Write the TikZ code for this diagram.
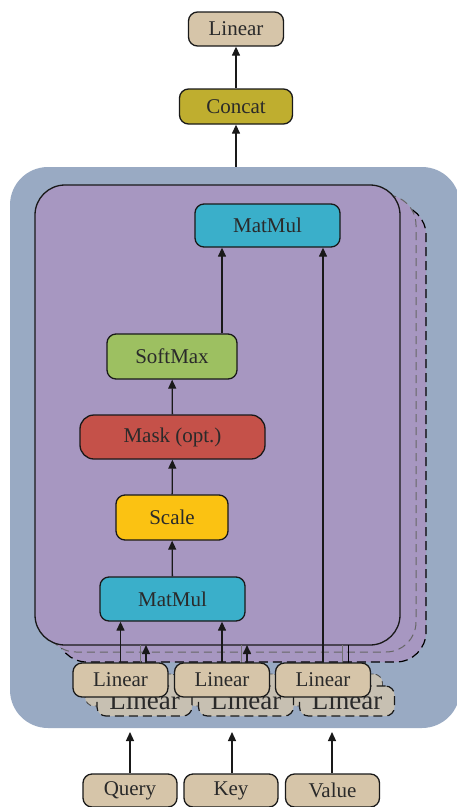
\documentclass[tikz,border=0pt]{standalone}
\usepackage{fontspec}
\setmainfont{Liberation Serif}
\usetikzlibrary{arrows.meta,calc}
\definecolor{outerc}{HTML}{99AAC3}
\definecolor{purp}{HTML}{A797C1}
\definecolor{beige}{HTML}{D6C5A9}
\definecolor{beigeb}{HTML}{C7C0B2}
\definecolor{olive}{HTML}{BFAE2F}
\definecolor{cyanb}{HTML}{3AAFCA}
\definecolor{greenb}{HTML}{9DC061}
\definecolor{redb}{HTML}{C55149}
\definecolor{yellowb}{HTML}{FBC212}
\definecolor{txt}{HTML}{2A2A2A}
\tikzset{
  blk/.style={draw=black!90, line width=1.3pt, rounded corners=9pt, inner sep=0pt,
    font=\fontsize{21}{24}\selectfont, text=txt},
  arr/.style={-{Triangle[width=8pt,length=9pt]}, line width=1.3pt, draw=black!90},
  thinln/.style={line width=0.8pt, draw=black!55},
  backlin/.style={draw=black!90, line width=1.2pt, dashed, dash pattern=on 9pt off 5pt,
    rounded corners=9pt, fill=beigeb, inner sep=0pt, minimum width=95pt, minimum height=30pt,
    font=\fontsize{27}{28}\selectfont, text=txt},
  midlin/.style={draw=black!70, line width=0.9pt, dashed, dash pattern=on 6pt off 4pt,
    rounded corners=9pt, fill=beigeb, inner sep=0pt, minimum width=95pt, minimum height=32pt},
  linbox/.style={blk, fill=beige, minimum width=95pt, minimum height=34pt}
}
\begin{document}
\begin{tikzpicture}[x=1pt,y=-1pt]
\useasboundingbox (0,0) rectangle (456,807);
% outer multi-head block
\node[fill=outerc, rounded corners=38pt, minimum width=450pt, minimum height=561pt, inner sep=0pt] (outer) at (235,447.5) {};
% stacked heads
\draw[fill=purp, line width=1.2pt, dash pattern=on 9pt off 5pt, rounded corners=30pt] (57,205) rectangle (426,662);
\draw[fill=purp, line width=1.0pt, draw=black!60, dash pattern=on 8pt off 5pt, rounded corners=30pt] (46,195) rectangle (416,652);
\node[fill=purp, draw=black!90, line width=1.3pt, rounded corners=30pt, minimum width=365pt, minimum height=460pt, inner sep=0pt] (head) at (217.5,415) {};
% top
\node[linbox] (lout) at (236,29) {Linear};
\node[blk, fill=olive, minimum width=113pt, minimum height=35pt] (concat) at (236,106.5) {Concat};
% inside head
\node[blk, fill=cyanb, minimum width=145pt, minimum height=43pt] (mm2) at (267.5,225.5) {MatMul};
\node[blk, fill=greenb, minimum width=130pt, minimum height=45pt] (sm) at (172,356.5) {SoftMax};
\node[blk, fill=redb, minimum width=185pt, minimum height=44pt, rounded corners=14pt] (mask) at (172.5,437) {Mask (opt.)};
\node[blk, fill=yellowb, minimum width=112pt, minimum height=45pt] (scale) at (172,517.5) {Scale};
\node[blk, fill=cyanb, minimum width=145pt, minimum height=44pt] (mm1) at (172.5,599) {MatMul};
% back linear copies
\foreach \n/\x in {q/120.5,k/222,v/323}{
  \node[midlin] (m\n) at (\x+12,690) {};
}
\foreach \n/\x in {q/120.5,k/222,v/323}{
  \node[backlin] (b\n) at (\x+24,701) {\raisebox{-2pt}{Linear}};
}
% back connectors
\foreach \x in {140,241,342}{
  \draw[thinln] (\x,645) -- (\x,663);
}
\draw[arr] (146,663) -- (146,645);
\draw[arr] (247,663) -- (247,645);
\draw[line width=1.0pt] (348,663) -- (348,645);
% front linears
\node[linbox] (lq) at (120.5,680) {Linear};
\node[linbox] (lk) at (222,680) {Linear};
\node[linbox] (lv) at (323,680) {Linear};
% inputs
\node[linbox, minimum width=94pt, minimum height=33pt] (q) at (130,790.5) {Query};
\node[linbox, minimum width=94pt, minimum height=33pt] (k) at (231,790.5) {Key};
\node[linbox, minimum width=94pt, minimum height=33pt] (v) at (332.5,790.5) {Value};
% connectors
\coordinate (smtop) at (222,247);
\draw[arr] (concat) -- (lout);
\draw[arr] (outer.north -| concat.south) -- (concat);
\draw[arr] (sm.north -| smtop) -- (mm2.south -| smtop);
\draw[arr] (lq.north) -- (lq.north |- mm1.south);
\draw[arr] (lk.north) -- (lk.north |- mm1.south);
\draw[arr] (lv.north) -- (lv.north |- mm2.south);
\draw[arr] (mm1) -- (scale);
\draw[arr] (scale) -- (mask);
\draw[arr] (mask) -- (sm);
\coordinate (qin) at (130,732);
\coordinate (kin) at (232,732);
\coordinate (vin) at (332,732);
\draw[arr] (q.north -| qin) -- (qin);
\draw[arr] (k.north -| kin) -- (kin);
\draw[arr] (v.north -| vin) -- (vin);
\end{tikzpicture}
\end{document}
